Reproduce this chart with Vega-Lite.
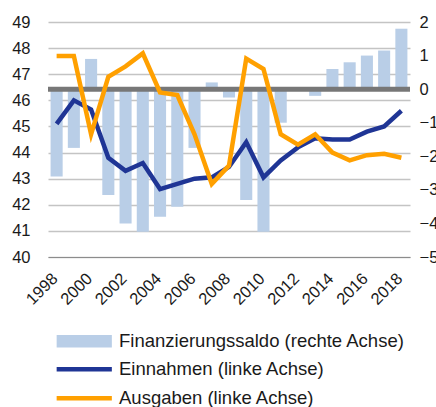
{
  "$schema": "https://vega.github.io/schema/vega-lite/v6.json",
  "width": 362,
  "height": 235,
  "autosize": {"type": "none"},
  "padding": {"left": 48, "top": 22, "right": 26, "bottom": 150},
  "background": "white",
  "config": {
    "view": {"stroke": null},
    "font": "Liberation Sans",
    "axis": {"labelFont": "Liberation Sans", "labelColor": "#1a1a1a", "domain": false, "ticks": false, "title": null, "labelOverlap": false},
    "legend": {"labelFont": "Liberation Sans", "labelColor": "#1a1a1a", "labelFontSize": 18.5, "padding": 0, "title": null, "labelLimit": 0}
  },
  "datasets": {
    "saldo": [
      {"year": "1998", "value": -2.6}, {"year": "1999", "value": -1.75}, {"year": "2000", "value": 0.9},
      {"year": "2001", "value": -3.15}, {"year": "2002", "value": -4.0}, {"year": "2003", "value": -4.25},
      {"year": "2004", "value": -3.8}, {"year": "2005", "value": -3.5}, {"year": "2006", "value": -1.75},
      {"year": "2007", "value": 0.2}, {"year": "2008", "value": -0.25}, {"year": "2009", "value": -3.3},
      {"year": "2010", "value": -4.25}, {"year": "2011", "value": -1.0}, {"year": "2012", "value": 0.0},
      {"year": "2013", "value": -0.2}, {"year": "2014", "value": 0.6}, {"year": "2015", "value": 0.8},
      {"year": "2016", "value": 1.0}, {"year": "2017", "value": 1.15}, {"year": "2018", "value": 1.8}
    ],
    "lines": [
      {"year": "1998", "series": "Einnahmen (linke Achse)", "value": 45.1},
      {"year": "1999", "series": "Einnahmen (linke Achse)", "value": 46.0},
      {"year": "2000", "series": "Einnahmen (linke Achse)", "value": 45.65},
      {"year": "2001", "series": "Einnahmen (linke Achse)", "value": 43.8},
      {"year": "2002", "series": "Einnahmen (linke Achse)", "value": 43.3},
      {"year": "2003", "series": "Einnahmen (linke Achse)", "value": 43.6},
      {"year": "2004", "series": "Einnahmen (linke Achse)", "value": 42.6},
      {"year": "2005", "series": "Einnahmen (linke Achse)", "value": 42.8},
      {"year": "2006", "series": "Einnahmen (linke Achse)", "value": 43.0},
      {"year": "2007", "series": "Einnahmen (linke Achse)", "value": 43.05},
      {"year": "2008", "series": "Einnahmen (linke Achse)", "value": 43.45},
      {"year": "2009", "series": "Einnahmen (linke Achse)", "value": 44.4},
      {"year": "2010", "series": "Einnahmen (linke Achse)", "value": 43.05},
      {"year": "2011", "series": "Einnahmen (linke Achse)", "value": 43.7},
      {"year": "2012", "series": "Einnahmen (linke Achse)", "value": 44.2},
      {"year": "2013", "series": "Einnahmen (linke Achse)", "value": 44.55},
      {"year": "2014", "series": "Einnahmen (linke Achse)", "value": 44.5},
      {"year": "2015", "series": "Einnahmen (linke Achse)", "value": 44.5},
      {"year": "2016", "series": "Einnahmen (linke Achse)", "value": 44.8},
      {"year": "2017", "series": "Einnahmen (linke Achse)", "value": 45.0},
      {"year": "2018", "series": "Einnahmen (linke Achse)", "value": 45.6},
      {"year": "1998", "series": "Ausgaben (linke Achse)", "value": 47.7},
      {"year": "1999", "series": "Ausgaben (linke Achse)", "value": 47.7},
      {"year": "2000", "series": "Ausgaben (linke Achse)", "value": 44.7},
      {"year": "2001", "series": "Ausgaben (linke Achse)", "value": 46.9},
      {"year": "2002", "series": "Ausgaben (linke Achse)", "value": 47.3},
      {"year": "2003", "series": "Ausgaben (linke Achse)", "value": 47.8},
      {"year": "2004", "series": "Ausgaben (linke Achse)", "value": 46.3},
      {"year": "2005", "series": "Ausgaben (linke Achse)", "value": 46.2},
      {"year": "2006", "series": "Ausgaben (linke Achse)", "value": 44.7},
      {"year": "2007", "series": "Ausgaben (linke Achse)", "value": 42.8},
      {"year": "2008", "series": "Ausgaben (linke Achse)", "value": 43.5},
      {"year": "2009", "series": "Ausgaben (linke Achse)", "value": 47.6},
      {"year": "2010", "series": "Ausgaben (linke Achse)", "value": 47.2},
      {"year": "2011", "series": "Ausgaben (linke Achse)", "value": 44.7},
      {"year": "2012", "series": "Ausgaben (linke Achse)", "value": 44.3},
      {"year": "2013", "series": "Ausgaben (linke Achse)", "value": 44.7},
      {"year": "2014", "series": "Ausgaben (linke Achse)", "value": 44.0},
      {"year": "2015", "series": "Ausgaben (linke Achse)", "value": 43.7},
      {"year": "2016", "series": "Ausgaben (linke Achse)", "value": 43.9},
      {"year": "2017", "series": "Ausgaben (linke Achse)", "value": 43.95},
      {"year": "2018", "series": "Ausgaben (linke Achse)", "value": 43.8}
    ],
    "zero": [{"z": 0}]
  },
  "layer": [
    {
      "layer": [
        {
          "data": {"name": "saldo"},
          "mark": {"type": "bar"},
          "encoding": {
            "x": {
              "field": "year", "type": "ordinal",
              "scale": {"paddingInner": 0.3, "paddingOuter": 0.15},
              "axis": {
                "values": ["1998", "2000", "2002", "2004", "2006", "2008", "2010", "2012", "2014", "2016", "2018"],
                "labelAngle": -45, "labelAlign": "right", "labelBaseline": "top",
                "labelFontSize": 16.5, "labelPadding": 13, "labelOffset": -7,
                "domain": true, "domainColor": "#8c8c8c", "domainWidth": 1
              }
            },
            "y": {
              "field": "value", "type": "quantitative",
              "scale": {"domain": [-5, 2], "nice": false, "zero": false},
              "axis": {"orient": "right", "values": [-5, -4, -3, -2, -1, 0, 1, 2], "grid": false, "labelFontSize": 16.5, "labelPadding": 9, "labelOverlap": false, "labelBound": false, "labelFlush": false}
            },
            "fill": {
              "datum": "Finanzierungssaldo (rechte Achse)",
              "type": "nominal",
              "scale": {"range": ["#b9cee7"]},
              "legend": {
                "orient": "none", "legendX": 27, "legendY": 310,
                "symbolType": "M-4.6,-1.05H4.6V1.05H-4.6Z", "symbolSize": 144,
                "symbolStrokeWidth": 0, "symbolOpacity": 1, "labelOffset": 25.5
              }
            }
          }
        },
        {
          "data": {"name": "zero"},
          "mark": {"type": "rule", "color": "#777777", "strokeWidth": 5},
          "encoding": {
            "y": {
              "field": "z", "type": "quantitative",
              "axis": {"orient": "right", "values": [-5, -4, -3, -2, -1, 0, 1, 2], "grid": false, "labelFontSize": 16.5, "labelPadding": 9, "labelOverlap": false, "labelBound": false, "labelFlush": false}
            }
          }
        }
      ]
    },
    {
      "data": {"name": "lines"},
      "mark": {"type": "line", "strokeWidth": 4.5, "strokeJoin": "miter"},
      "encoding": {
        "x": {"field": "year", "type": "ordinal"},
        "y": {
          "field": "value", "type": "quantitative",
          "scale": {"domain": [40, 49], "nice": false, "zero": false},
          "axis": {"orient": "left", "values": [40, 41, 42, 43, 44, 45, 46, 47, 48, 49], "grid": true, "gridColor": "#c4c4c4", "gridWidth": 1.3, "labelFontSize": 16.5, "labelPadding": 18, "labelOverlap": false}
        },
        "stroke": {
          "field": "series", "type": "nominal",
          "sort": ["Einnahmen (linke Achse)", "Ausgaben (linke Achse)"],
          "scale": {"domain": ["Einnahmen (linke Achse)", "Ausgaben (linke Achse)"], "range": ["#1f3595", "#ffa000"]},
          "legend": {
            "orient": "none", "legendX": 27, "legendY": 338,
            "symbolType": "M-4.6,0H4.6", "symbolSize": 144, "symbolStrokeWidth": 4.5,
            "labelOffset": 25.5, "rowPadding": 10
          }
        }
      }
    }
  ],
  "resolve": {"scale": {"y": "independent"}}
}
